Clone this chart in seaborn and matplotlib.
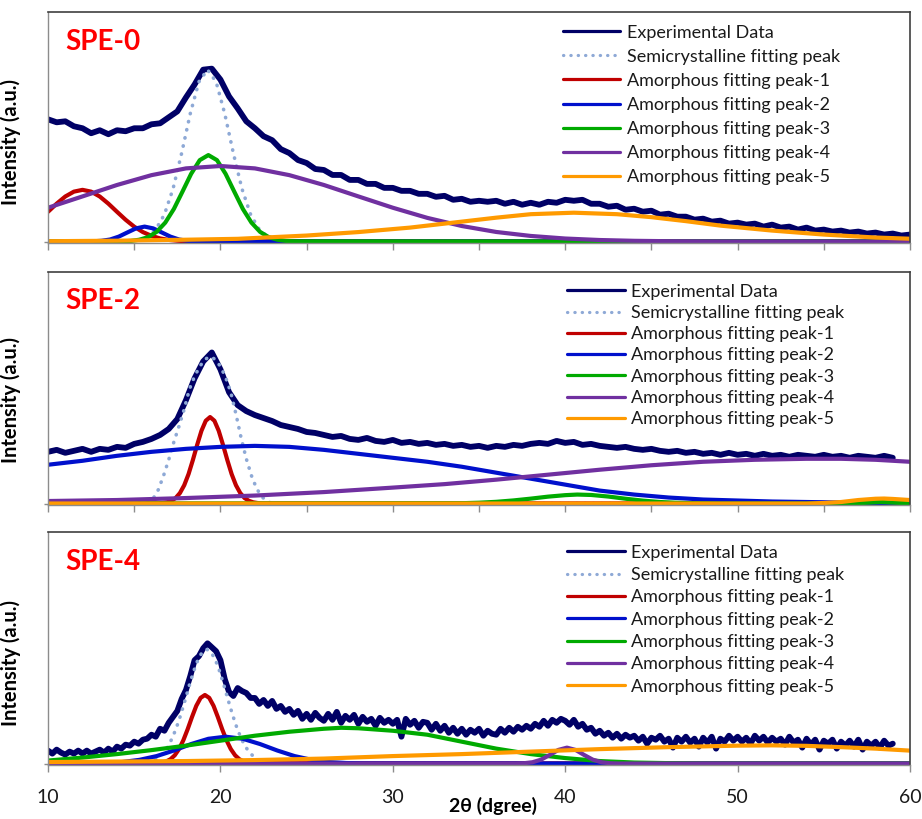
import matplotlib.pyplot as plt
import seaborn as sns
import numpy as np

sns.set_style('white')
plt.rcParams['font.family'] = ['Lato', 'DejaVu Sans']

# ---------------- data (intensity in arbitrary units) ----------------
labels = ['Experimental Data', 'Semicrystalline fitting peak',
          'Amorphous fitting peak-1', 'Amorphous fitting peak-2',
          'Amorphous fitting peak-3', 'Amorphous fitting peak-4',
          'Amorphous fitting peak-5']
colors = ['#000066', '#8EA9D6', '#C00000', '#0010CC', '#00AA00', '#7030A0', '#FF9A00']

# SPE-0 : experimental pattern, 2theta 10 -> 60 every 0.5
spe0_exp = [123, 120, 121, 116, 114, 109, 112, 108, 112, 111,
            114, 114, 118, 119, 125, 131, 145, 158, 173, 174,
            163, 146, 134, 121, 114, 106, 102, 93, 89, 82,
            79, 73, 72, 67, 67, 62, 62, 58, 58, 54,
            54, 51, 51, 48, 48, 45, 46, 42, 43, 40,
            41, 40, 41, 38, 40, 37, 39, 37, 40, 39,
            42, 41, 42, 38, 38, 35, 36, 32, 33, 30,
            31, 27, 28, 25, 25, 22, 23, 20, 21, 18,
            19, 17, 18, 15, 17, 14, 15, 12, 14, 11,
            12, 10, 11, 9, 10, 8, 9, 7, 8, 6, 7]
spe0_semi_x = [10, 14.75, 15.25, 15.75, 16.25, 16.75, 17.25, 17.75, 18.25, 18.75, 19.25,
               19.75, 20.25, 20.75, 21.25, 21.75, 22.25, 22.75, 23.25, 23.75, 60]
spe0_semi = [0, 0.4, 1.5, 4.6, 12.1, 27.2, 53.0, 88.9, 128.7, 160.7, 173,
             160.7, 128.7, 88.9, 53.0, 27.2, 12.1, 4.6, 1.5, 0.4, 0]
spe0_p1_x = [10, 10.5, 11, 11.5, 12, 12.5, 13, 13.5, 14, 14.5, 15, 15.5, 16, 16.5, 17, 17.5, 18, 60]
spe0_p1 = [29.9, 38.1, 45.3, 50.2, 52, 50.2, 45.3, 38.1, 29.9, 21.9, 14.9, 9.5, 5.7, 3.1, 1.6, 0.8, 0.3, 0]
spe0_p2_x = [10, 12.6, 13.1, 13.6, 14.1, 14.6, 15.1, 15.6, 16.1, 16.6, 17.1, 17.6, 18.1, 18.6, 60]
spe0_p2 = [0, 0.2, 0.7, 2.0, 4.9, 9.1, 13.2, 15, 13.2, 9.1, 4.9, 2.0, 0.7, 0.2, 0]
spe0_p3_x = [10, 14.3, 14.8, 15.3, 15.8, 16.3, 16.8, 17.3, 17.8, 18.3, 18.8, 19.3,
             19.8, 20.3, 20.8, 21.3, 21.8, 22.3, 22.8, 23.3, 23.8, 24.3, 60]
spe0_p3 = [0, 0.2, 0.6, 1.8, 4.4, 9.7, 19.0, 32.8, 50.3, 68.1, 81.9, 87,
           81.9, 68.1, 50.3, 32.8, 19.0, 9.7, 4.4, 1.8, 0.6, 0.2, 0]
spe0_p4_x = [10, 12, 14, 16, 18, 20, 22, 24, 26, 28, 30, 32, 34, 36, 38, 40,
             42, 44, 46, 48, 50, 52, 54, 56, 58, 60]
spe0_p4 = [34.0, 45.4, 56.9, 66.8, 73.6, 76, 73.6, 66.8, 56.9, 45.4, 34.0, 23.8, 15.6,
           9.6, 5.6, 3.0, 1.5, 0.7, 0.3, 0.1, 0, 0, 0, 0, 0, 0]
spe0_p5_x = [10, 14, 18, 21, 25, 28, 31, 34, 36, 38, 40.5, 43, 45, 47, 49, 52, 55, 58, 60]
spe0_p5 = [0.3, 0.8, 1.8, 2.7, 6, 9.5, 14, 20, 24, 27.5, 29, 27.5, 24.5, 20.5, 16, 11, 7, 4, 2.8]

# SPE-2 : experimental pattern, 2theta 10 -> 59 every 0.5
spe2_exp = [52, 54, 51, 53, 55, 52, 55, 54, 57, 56,
            60, 62, 65, 69, 75, 85, 104, 126, 143, 152,
            135, 112, 99, 93, 89, 86, 83, 79, 77, 75,
            72, 71, 69, 67, 68, 65, 64, 66, 63, 62,
            64, 61, 62, 60, 61, 59, 60, 58, 59, 57,
            58, 56, 58, 57, 59, 58, 60, 61, 60, 63,
            61, 62, 59, 60, 58, 57, 56, 57, 55, 54,
            55, 53, 52, 53, 51, 52, 50, 51, 49, 51,
            49, 50, 48, 50, 48, 49, 47, 49, 48, 47,
            49, 47, 48, 46, 48, 47, 46, 48, 46]
spe2_semi_x = [10, 15.8, 16.1, 16.4, 16.7, 17.0, 17.3, 17.6, 17.9, 18.2, 18.5, 18.8, 19.1, 19.4,
               19.7, 20.0, 20.3, 20.6, 20.9, 21.2, 21.5, 21.8, 22.1, 22.4, 22.7, 23.0, 60]
spe2_semi = [0, 1, 5, 14, 28, 44, 62, 78, 95, 115, 128, 138, 145, 148,
             145, 138, 127, 112, 90, 66, 45, 28, 15, 7, 2, 0, 0]
spe2_p1_x = [10, 16.4, 16.65, 16.9, 17.15, 17.4, 17.65, 17.9, 18.15, 18.4, 18.65, 18.9, 19.15, 19.4,
             19.65, 19.9, 20.15, 20.4, 20.65, 20.9, 21.15, 21.4, 21.65, 21.9, 22.15, 22.4, 60]
spe2_p1 = [0, 0.2, 0.5, 1.2, 2.7, 5.5, 10.5, 18.4, 29.6, 43.7, 59.0, 73.2, 83.3, 87,
           83.3, 73.2, 59.0, 43.7, 29.6, 18.4, 10.5, 5.5, 2.7, 1.2, 0.5, 0.2, 0]
spe2_p2_x = [10, 12, 14, 16, 18, 20, 22, 24, 26, 28, 30, 32, 34, 36, 38, 40,
             42, 44, 46, 48, 50, 52, 54, 56, 58, 60]
spe2_p2 = [39, 43, 48, 52, 55, 57, 58, 57, 54, 50, 46, 42, 37, 31, 25, 19,
           13, 9, 6, 4, 3, 2, 1.5, 1, 0.5, 0.3]
spe2_p3_x = [10, 34, 35, 36, 37, 38, 39, 40, 40.7, 41.5, 42.5, 43.5, 44.5, 45.5, 46.5, 47.5,
             49, 56, 57, 58.3, 59.5, 60]
spe2_p3 = [0, 0.3, 0.8, 1.7, 3.1, 4.9, 6.9, 8.4, 9, 8.6, 7.0, 4.8, 2.9, 1.5, 0.7, 0.3,
           0, 0, 0.3, 1.5, 0.5, 0.2]
spe2_p4_x = [10, 14, 18, 22, 26, 30, 33, 36, 39, 42, 45, 48, 51, 54, 56, 58, 60]
spe2_p4 = [2.5, 3.5, 5.5, 8, 11.5, 16, 19.5, 24, 29, 34, 38.5, 42, 44, 45, 45, 44, 42]
spe2_p5_x = [10, 54, 55, 56, 57, 58, 58.5, 59, 60]
spe2_p5 = [0, 0, 0.5, 1.5, 3.5, 4.8, 5, 4.6, 3.5]

# SPE-4 : experimental pattern, 2theta 10 -> 59 every 0.25
spe4_exp = [13, 10, 14, 11, 9, 12, 10, 13,
            10, 13, 10, 12, 14, 11, 15, 12,
            17, 15, 19, 18, 22, 20, 24, 25,
            29, 27, 35, 33, 41, 47, 53, 65,
            74, 88, 104, 108, 116, 121, 117, 113,
            104, 85, 72, 68, 76, 73, 71, 66,
            66, 60, 64, 58, 63, 55, 58, 52,
            55, 49, 53, 45, 50, 44, 51, 46,
            43, 50, 44, 52, 41, 48, 44, 49,
            40, 47, 42, 45, 38, 46, 41, 44,
            40, 44, 27, 45, 39, 43, 36, 42,
            41, 34, 40, 33, 38, 31, 36, 30,
            35, 29, 34, 31, 35, 28, 33, 30,
            29, 35, 31, 36, 32, 37, 34, 38,
            35, 40, 37, 43, 38, 44, 41, 45,
            43, 39, 44, 37, 40, 34, 36, 30,
            33, 28, 31, 26, 30, 25, 29, 26,
            28, 23, 27, 20, 26, 24, 28, 22,
            25, 16, 26, 22, 27, 21, 25, 17,
            26, 21, 27, 15, 25, 22, 28, 23,
            27, 22, 26, 20, 28, 23, 27, 21,
            26, 22, 25, 19, 27, 21, 24, 16,
            25, 19, 24, 14, 23, 20, 24, 15,
            22, 18, 23, 17, 24, 14, 22, 18,
            22, 16, 23, 18, 20]
spe4_semi_x = [10, 15.2, 15.7, 16.2, 16.45, 16.7, 16.95, 17.2, 17.45, 17.7, 17.95, 18.2, 18.45,
               18.7, 18.95, 19.2, 19.45, 19.7, 19.95, 20.2, 20.45, 20.7, 20.95, 21.2, 21.45,
               21.7, 21.95, 22.2, 22.7, 23.2, 60]
spe4_semi = [0, 0.3, 1.1, 3.9, 6.6, 10.9, 17.0, 25.4, 36.2, 49.2, 63.8, 78.9, 93.0,
             104.7, 112.3, 115, 112.3, 104.7, 93.0, 78.9, 63.8, 49.2, 36.2, 25.4, 17.0,
             10.9, 6.6, 3.9, 1.1, 0.3, 0]
spe4_p1_x = [10, 16.35, 16.6, 16.85, 17.1, 17.35, 17.6, 17.85, 18.1, 18.35, 18.6, 18.85, 19.1,
             19.35, 19.6, 19.85, 20.1, 20.35, 20.6, 20.85, 21.1, 21.35, 21.6, 21.85, 60]
spe4_p1 = [0, 0.35, 0.9, 2.1, 4.3, 8.3, 14.6, 23.5, 34.6, 46.8, 58.1, 66.1, 69,
           66.1, 58.1, 46.8, 34.6, 23.5, 14.6, 8.3, 4.3, 2.1, 0.9, 0.35, 0]
spe4_p2_x = [10, 12.3, 13.3, 14.3, 15.3, 16.3, 17.3, 18.3, 19.3, 20.3, 21.3, 22.3, 23.3,
             24.3, 25.3, 26.3, 27.3, 28.3, 60]
spe4_p2 = [0, 0.2, 0.5, 1.5, 3.7, 7.5, 13.1, 19.6, 24.9, 27, 24.9, 19.6, 13.1,
           7.5, 3.7, 1.5, 0.5, 0.2, 0]
spe4_p3_x = [10, 12, 14, 16, 18, 20, 22, 24, 26, 27, 28, 30, 32, 34, 36, 38, 40, 42, 44, 46, 48, 60]
spe4_p3 = [3, 6, 9.5, 13.5, 18, 23, 28, 32, 35, 36, 35.5, 33, 29, 22, 15, 9.5, 5.5, 2.5, 1, 0.4, 0, 0]
spe4_p4_x = [10, 37.1, 37.6, 38.1, 38.6, 39.1, 39.6, 40.1, 40.6, 41.1, 41.6, 42.1, 42.6, 43.1, 60]
spe4_p4 = [0, 0, 0.3, 1.3, 3.9, 8.6, 13.7, 16, 13.7, 8.6, 3.9, 1.3, 0.3, 0, 0]
spe4_p5_x = [10, 14, 18, 22, 26, 30, 34, 38, 42, 46, 50, 52, 54, 56, 58, 60]
spe4_p5 = [1.5, 2, 2.5, 3.5, 5, 7.5, 9.5, 12, 14.5, 16.5, 18, 18.3, 17.8, 16.5, 15, 13]

panels = [
    {'name': 'SPE-0', 'exp': spe0_exp, 'exp_end': 60,
     'fits': [(spe0_semi_x, spe0_semi), (spe0_p1_x, spe0_p1), (spe0_p2_x, spe0_p2),
              (spe0_p3_x, spe0_p3), (spe0_p4_x, spe0_p4), (spe0_p5_x, spe0_p5)],
     'rect': [0.0521, 0.7033, 0.9349, 0.2820], 'top': 231,
     'leg': (0.597, 0.946), 'spacing': 0.45, 'ticks': np.arange(10, 61, 5),
     'title_y': 0.870, 'ylab_y': 0.437},
    {'name': 'SPE-2', 'exp': spe2_exp, 'exp_end': 59,
     'fits': [(spe2_semi_x, spe2_semi), (spe2_p1_x, spe2_p1), (spe2_p2_x, spe2_p2),
              (spe2_p3_x, spe2_p3), (spe2_p4_x, spe2_p4), (spe2_p5_x, spe2_p5)],
     'rect': [0.0521, 0.3834, 0.9349, 0.2845], 'top': 233,
     'leg': (0.602, 0.950), 'spacing': 0.29, 'ticks': np.arange(10, 61, 5),
     'title_y': 0.874, 'ylab_y': 0.45},
    {'name': 'SPE-4', 'exp': spe4_exp, 'exp_end': 59,
     'fits': [(spe4_semi_x, spe4_semi), (spe4_p1_x, spe4_p1), (spe4_p2_x, spe4_p2),
              (spe4_p3_x, spe4_p3), (spe4_p4_x, spe4_p4), (spe4_p5_x, spe4_p5)],
     'rect': [0.0521, 0.0659, 0.9349, 0.2845], 'top': 233,
     'leg': (0.602, 0.946), 'spacing': 0.35, 'ticks': np.arange(10, 61, 10),
     'title_y': 0.871, 'ylab_y': 0.44},
]

fig = plt.figure(figsize=(9.22, 8.19), dpi=100)

for i, p in enumerate(panels):
    ax = fig.add_axes(p['rect'])
    x_exp = np.linspace(10, p['exp_end'], len(p['exp']))
    sns.lineplot(x=x_exp, y=p['exp'], ax=ax, color=colors[0], linewidth=4.2,
                 label=labels[0], solid_joinstyle='round', solid_capstyle='round')
    for k, (fx, fy) in enumerate(p['fits']):
        if k == 0:
            sns.lineplot(x=fx, y=fy, ax=ax, color=colors[1], linewidth=2.6,
                         linestyle=(0, (0.1, 2.2)), dash_capstyle='round', label=labels[1])
        else:
            sns.lineplot(x=fx, y=fy, ax=ax, color=colors[k + 1], linewidth=3,
                         label=labels[k + 1])

    ax.set_xlim(10, 60)
    ax.set_ylim(-1.5, p['top'])
    ax.set_xticks(p['ticks'])
    ax.set_yticks([0])
    ax.set_yticklabels([])
    for s in ['top', 'right']:
        ax.spines[s].set_color('#404040')
        ax.spines[s].set_linewidth(1.2)
    for s in ['left', 'bottom']:
        ax.spines[s].set_color('#8c8c8c')
        ax.spines[s].set_linewidth(1)
    ax.tick_params(axis='x', bottom=True, direction='out', length=5, width=1,
                   color='#8c8c8c', labelsize=14, labelcolor='#1a1a1a', pad=12,
                   labelbottom=(i == 2))
    ax.tick_params(axis='y', left=True, direction='out', length=3, width=1, color='#8c8c8c')

    ax.text(0.02, p['title_y'], p['name'], transform=ax.transAxes, color='#FF0000',
            fontsize=20, fontweight='bold', ha='left', va='center')
    ax.set_ylabel('Intensity (a.u.)', fontsize=14.5, fontweight='bold', color='black')
    ax.yaxis.set_label_coords(-0.031, p['ylab_y'])
    if i == 2:
        ax.set_xlabel('2θ (dgree)', fontsize=14, fontweight='bold', color='black')
        ax.xaxis.set_label_coords(0.516, -0.137)
    else:
        ax.set_xlabel('')

    leg = ax.legend(loc='upper left', bbox_to_anchor=p['leg'], frameon=False, fontsize=13,
                    handlelength=3.2, handletextpad=0.35, labelspacing=p['spacing'],
                    borderpad=0, borderaxespad=0, labelcolor='#1a1a1a')
    for ln in leg.get_lines():
        ln.set_linewidth(2.3)

fig.savefig('out.png', dpi=100)
